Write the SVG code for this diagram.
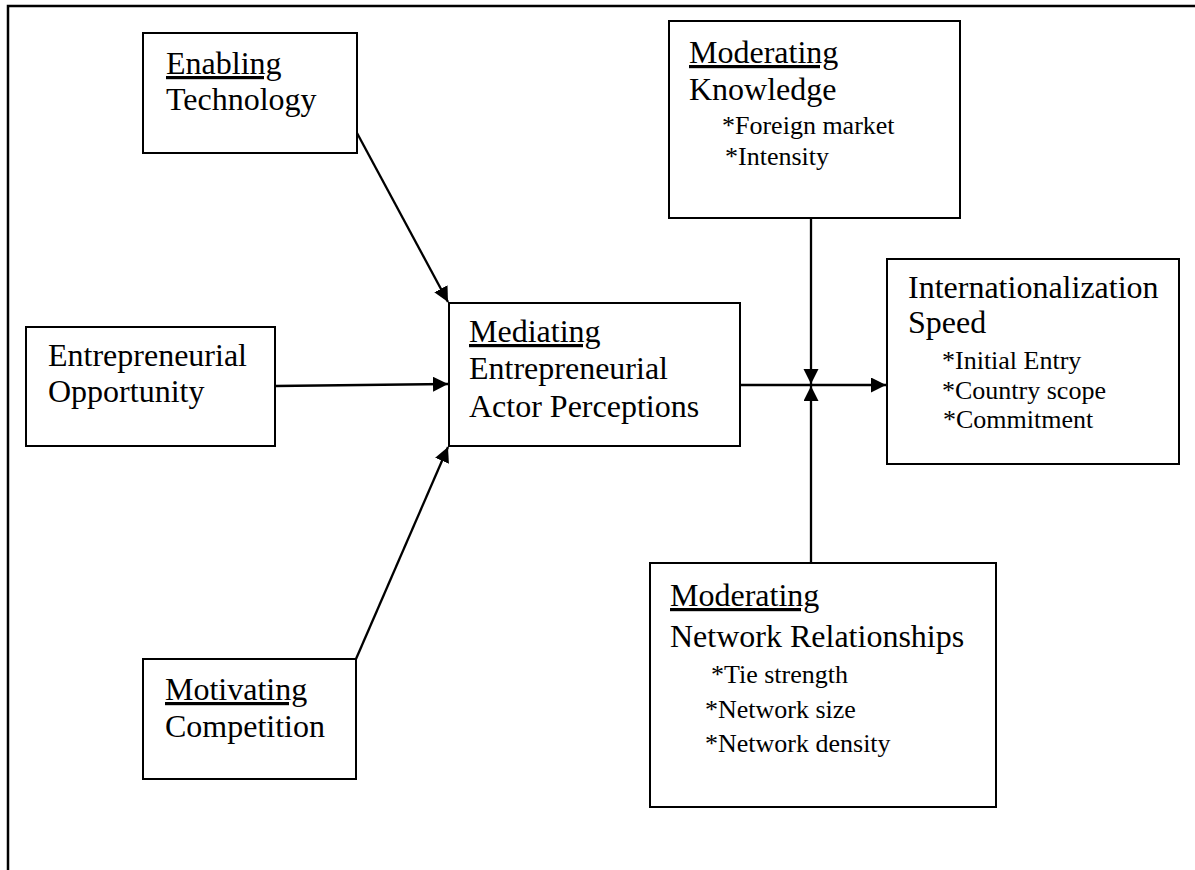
<svg xmlns="http://www.w3.org/2000/svg" width="1195" height="870" viewBox="0 0 1195 870">
  <style>
    .box { fill: #fff; stroke: #000; stroke-width: 2; }
    .frame { fill: none; stroke: #000; stroke-width: 2.5; }
    .t { font-family: "Liberation Serif", "Times New Roman", serif; font-size: 32px; fill: #000; }
    .s { font-family: "Liberation Serif", "Times New Roman", serif; font-size: 26px; fill: #000; }
    .u { text-decoration: underline; }
    .edge { fill: none; stroke: #000; stroke-width: 2.3; }
  </style>
  <defs>
    <marker id="arrow" markerUnits="userSpaceOnUse" markerWidth="16" markerHeight="16" refX="15" refY="7.5" orient="auto">
      <path d="M0,0 L15,7.5 L0,15 z" fill="#000"/>
    </marker>
  </defs>

  <rect width="1195" height="870" fill="#fff"/>
  <!-- page frame: top and left edges -->
  <path class="frame" d="M8,870 V6 H1195"/>

  <g id="connectors">
    <line class="edge" x1="357" y1="133" x2="448" y2="302" marker-end="url(#arrow)"/>
    <line class="edge" x1="275" y1="386" x2="448" y2="384" marker-end="url(#arrow)"/>
    <line class="edge" x1="356" y1="659" x2="448" y2="447" marker-end="url(#arrow)"/>
    <line class="edge" x1="740" y1="385" x2="886" y2="385" marker-end="url(#arrow)"/>
    <line class="edge" x1="811" y1="200" x2="811" y2="384" marker-end="url(#arrow)"/>
    <line class="edge" x1="811" y1="563" x2="811" y2="386" marker-end="url(#arrow)"/>
  </g>

  <g id="enabling-technology">
    <rect class="box" x="143" y="33" width="214" height="120"/>
    <text class="t" x="166"><tspan class="u" y="74">Enabling</tspan><tspan x="166" y="110">Technology</tspan></text>
  </g>

  <g id="entrepreneurial-opportunity">
    <rect class="box" x="26" y="327" width="249" height="119"/>
    <text class="t" x="48"><tspan y="366">Entrepreneurial</tspan><tspan x="48" y="402">Opportunity</tspan></text>
  </g>

  <g id="motivating-competition">
    <rect class="box" x="143" y="659" width="213" height="120"/>
    <text class="t" x="165"><tspan class="u" y="700">Motivating</tspan><tspan x="165" y="737">Competition</tspan></text>
  </g>

  <g id="mediating-perceptions">
    <rect class="box" x="449" y="303" width="291" height="143"/>
    <text class="t" x="469"><tspan class="u" y="342">Mediating</tspan><tspan x="469" y="379">Entrepreneurial</tspan><tspan x="469" y="417">Actor Perceptions</tspan></text>
  </g>

  <g id="moderating-knowledge">
    <rect class="box" x="669" y="21" width="291" height="197"/>
    <text class="t" x="689"><tspan class="u" y="63">Moderating</tspan><tspan x="689" y="100">Knowledge</tspan></text>
    <text class="s"><tspan x="722" y="134">*Foreign market</tspan><tspan x="725" y="165">*Intensity</tspan></text>
  </g>

  <g id="internationalization-speed">
    <rect class="box" x="887" y="259" width="292" height="205"/>
    <text class="t" x="908"><tspan y="298">Internationalization</tspan><tspan x="908" y="333">Speed</tspan></text>
    <text class="s"><tspan x="942" y="369">*Initial Entry</tspan><tspan x="942" y="399">*Country scope</tspan><tspan x="943" y="428">*Commitment</tspan></text>
  </g>

  <g id="moderating-network">
    <rect class="box" x="650" y="563" width="346" height="244"/>
    <text class="t" x="670"><tspan class="u" y="606">Moderating</tspan><tspan x="670" y="647">Network Relationships</tspan></text>
    <text class="s"><tspan x="711" y="683">*Tie strength</tspan><tspan x="705" y="718">*Network size</tspan><tspan x="705" y="752">*Network density</tspan></text>
  </g>
</svg>
